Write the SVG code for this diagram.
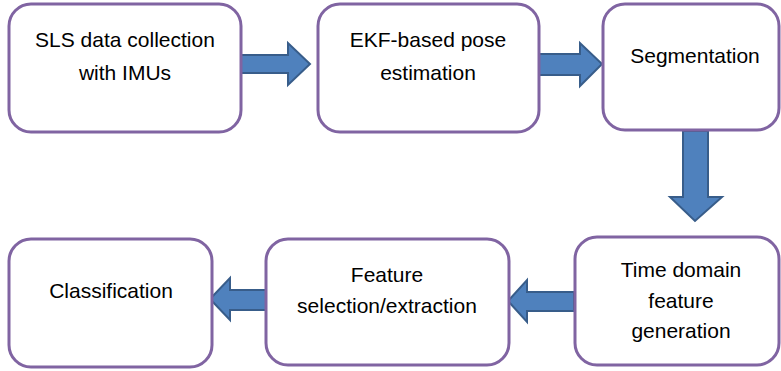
<svg xmlns="http://www.w3.org/2000/svg" width="781" height="371" viewBox="0 0 781 371">
<style>
.box{fill:#fff;stroke:#8064A2;stroke-width:3}
.arr{fill:#4F81BD;stroke:#385D8A;stroke-width:2;stroke-linejoin:miter}
text{font-family:"Liberation Sans",Arial,sans-serif;font-size:21px;fill:#000;text-anchor:middle}
</style>
<rect width="781" height="371" fill="#fff"/>
<g id="connectors">
<polygon class="arr" points="241,55 288,55 288,43 310,64 288,85 288,73 241,73"/>
<polygon class="arr" points="539,54 580,54 580,43 602,64 580,86 580,75 539,75"/>
<polygon class="arr" points="683,131 708,131 708,197 722,197 695,221 670,197 683,197"/>
<polygon class="arr" points="574,292 527,292 527,280 508,301 527,322 527,311 574,311"/>
<polygon class="arr" points="267,290 230,290 230,278 210,299 230,320 230,310 267,310"/>
</g>
<g id="n1"><rect class="box" x="9" y="4" width="232" height="128" rx="22"/>
<text x="125" y="47">SLS data collection</text><text x="125" y="80">with IMUs</text></g>
<g id="n2"><rect class="box" x="318" y="4" width="221" height="128" rx="22"/>
<text x="428" y="47">EKF-based pose</text><text x="428" y="80">estimation</text></g>
<g id="n3"><rect class="box" x="603" y="4" width="176" height="126" rx="22"/>
<text x="695" y="63">Segmentation</text></g>
<g id="n4"><rect class="box" x="575" y="237" width="204" height="128" rx="22"/>
<text x="681" y="277">Time domain</text><text x="681" y="308">feature</text><text x="681" y="338">generation</text></g>
<g id="n5"><rect class="box" x="266" y="239" width="243" height="126" rx="22"/>
<text x="387" y="282">Feature</text><text x="387" y="313">selection/extraction</text></g>
<g id="n6"><rect class="box" x="9" y="239" width="203" height="128" rx="22"/>
<text x="111" y="298">Classification</text></g>
</svg>
